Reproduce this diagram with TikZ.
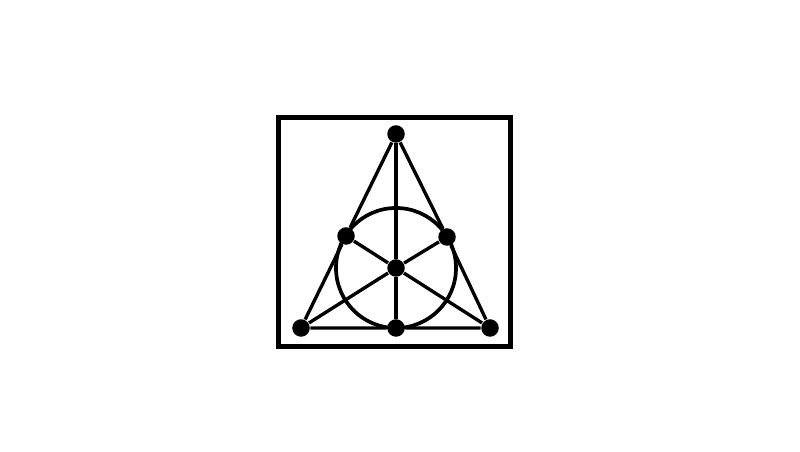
\documentclass[tikz,border=0pt]{standalone}
\usetikzlibrary{positioning}
\tikzstyle{point} = [circle, fill=black, draw=none, inner sep=0pt, minimum size=0.175cm]
\tikzstyle{fanoline} = [line width=0.95pt]

\begin{document}
\begin{tikzpicture}[x=0.01cm, y=-0.01cm]
\useasboundingbox (0,0) rectangle (800,452);
\def\boxlw{1.5pt}
\def\rad{60}

\draw[line width=\boxlw] (278.5,117.5) rectangle (510.5,346.5);

\node[point] (top) at (396,134) {};
\node[point] (bl) at (301,328) {};
\node[point] (br) at (490,328) {};
\node[point] (lm) at (346,236) {};
\node[point] (rm) at (447,237) {};
\node[point] (bm) at (396,328) {};
\node[point] (mid) at (396,268) {};

% sides
\draw[fanoline] (top) -- (lm) -- (bl) -- (bm) -- (br) -- (rm) -- (top);
% through the centre
\draw[fanoline] (top) -- (mid) -- (bm);
\draw[fanoline] (bl) -- (mid) -- (rm);
\draw[fanoline] (br) -- (mid) -- (lm);

\draw[line width=1.05pt] (mid) circle (\rad);

\end{tikzpicture}
\end{document}
